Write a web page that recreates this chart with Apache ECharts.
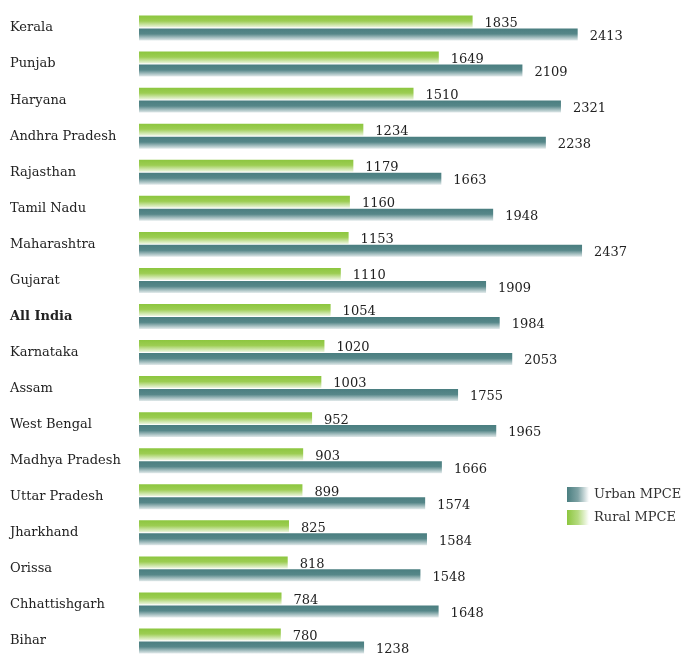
<!DOCTYPE html>
<html><head><meta charset="utf-8">
<script src="https://cdn.jsdelivr.net/npm/echarts@6/dist/echarts.min.js"></script>
<style>html,body{margin:0;padding:0;background:#fff}#c{width:682px;height:659px}</style>
</head><body><div id="c"></div>
<script>
const categories = ['Kerala','Punjab','Haryana','Andhra Pradesh','Rajasthan','Tamil Nadu','Maharashtra','Gujarat','All India','Karnataka','Assam','West Bengal','Madhya Pradesh','Uttar Pradesh','Jharkhand','Orissa','Chhattishgarh','Bihar'];
const ruralMPCE = [1835,1649,1510,1234,1179,1160,1153,1110,1054,1020,1003,952,903,899,825,818,784,780];
const urbanMPCE = [2413,2109,2321,2238,1663,1948,2437,1909,1984,2053,1755,1965,1666,1574,1584,1548,1648,1238];

const FONT = 'DejaVu Serif';
const vGrad = (stops) => new echarts.graphic.LinearGradient(0,0,0,1,stops.map(([o,c])=>({offset:o,color:c})));
const hGrad = (stops) => new echarts.graphic.LinearGradient(0,0,1,0,stops.map(([o,c])=>({offset:o,color:c})));
const ruralFill = vGrad([[0,'#8cc63f'],[0.45,'#9ccd52'],[1,'#eef6e2']]);
const urbanFill = vGrad([[0,'#4a7e80'],[0.45,'#568789'],[1,'#e2eaeb']]);

const chart = echarts.init(document.getElementById('c'));
const lbl = {show:true, position:'right', distance:12, offset:[0,2], color:'#222', fontFamily:FONT, fontSize:13};
chart.setOption({
  animation:false,
  grid:{left:139, top:10, height:655, width:454.5},
  xAxis:{type:'value', min:0, max:2500, show:false},
  yAxis:{type:'category', data:categories, inverse:true,
    axisLine:{show:false}, axisTick:{show:false},
    axisLabel:{align:'left', margin:129, color:'#222', fontFamily:FONT, fontSize:13,
      formatter:(v)=> v==='All India' ? '{b|'+v+'}' : v,
      rich:{b:{fontWeight:'bold', fontFamily:FONT, fontSize:13, color:'#222'}}}},
  legend:{orient:'vertical', left:562, top:482, itemWidth:22, itemHeight:15, itemGap:8,
    textStyle:{fontFamily:FONT, fontSize:13, color:'#333'},
    data:[
      {name:'Urban MPCE', icon:'rect', itemStyle:{color:hGrad([[0,'#4a7e80'],[0.5,'#7fa3a5'],[1,'#ffffff']])}},
      {name:'Rural MPCE', icon:'rect', itemStyle:{color:hGrad([[0,'#8cc63f'],[0.5,'#b5db80'],[1,'#ffffff']])}}
    ]},
  series:[
    {name:'Rural MPCE', type:'bar', data:ruralMPCE, barWidth:12, barGap:'8%', itemStyle:{color:ruralFill}, label:lbl},
    {name:'Urban MPCE', type:'bar', data:urbanMPCE, barWidth:12, barGap:'8%', itemStyle:{color:urbanFill}, label:lbl}
  ]
});
</script></body></html>
